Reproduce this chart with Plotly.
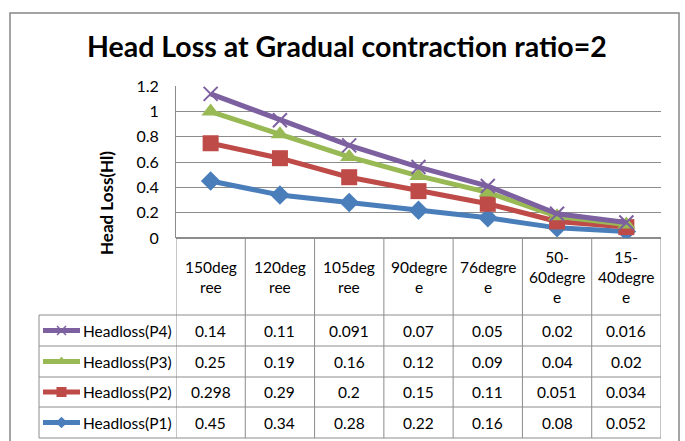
import plotly.graph_objects as go
import numpy as np

W, H = 685, 441

categories = ["150degree", "120degree", "105degree", "90degree", "76degree", "50-60degree", "15-40degree"]
cat_labels = ["150deg<br>ree", "120deg<br>ree", "105deg<br>ree", "90degre<br>e", "76degre<br>e",
              "50-<br>60degre<br>e", "15-<br>40degre<br>e"]
headloss_p1 = [0.45, 0.34, 0.28, 0.22, 0.16, 0.08, 0.052]
headloss_p2 = [0.298, 0.29, 0.2, 0.15, 0.11, 0.051, 0.034]
headloss_p3 = [0.25, 0.19, 0.16, 0.12, 0.09, 0.04, 0.02]
headloss_p4 = [0.14, 0.11, 0.091, 0.07, 0.05, 0.02, 0.016]
series_names = ["Headloss(P1)", "Headloss(P2)", "Headloss(P3)", "Headloss(P4)"]
y_ticks = [0, 0.2, 0.4, 0.6, 0.8, 1.0, 1.2]

series = [headloss_p1, headloss_p2, headloss_p3, headloss_p4]
colors = ["#4A7EBB", "#BE4B48", "#98B954", "#7D60A0"]
symbols = ["diamond", "square", "triangle-up", "x-thin"]
msizes = [15, 16, 16, 14]
leg_msizes = [9, 10, 10, 9]

FONT = "Lato, 'Open Sans', sans-serif"
GRID = "#8C8C8C"
TFS = 15.5  # table font size

def px(x):
    return x / W

def py(y):
    return 1 - y / H

# layout geometry (pixels)
PL, PR, PT, PB = 176, 661, 86, 238
LEG_L = 39
ROW_LINES = [315, 346, 377, 407, 438]
# table rows top-to-bottom: P4, P3, P2, P1
row_order = [3, 2, 1, 0]

fig = go.Figure()

cum = np.cumsum(np.array(series), axis=0)
xs = list(range(len(categories)))
for i in range(4):
    mk = dict(symbol=symbols[i], size=msizes[i], color=colors[i])
    if symbols[i] == "x-thin":
        mk["line"] = dict(color=colors[i], width=2)
    else:
        mk["line"] = dict(width=0)
    fig.add_trace(go.Scatter(
        x=xs, y=cum[i], mode="lines+markers", name=series_names[i],
        line=dict(color=colors[i], width=5), marker=mk,
        xaxis="x", yaxis="y", showlegend=False, hoverinfo="skip"))

# legend samples inside the data table (overlay axis in paper fractions)
for r, si in enumerate(row_order):
    yc = (ROW_LINES[r] + ROW_LINES[r + 1]) / 2
    fig.add_shape(type="line", xref="paper", yref="paper",
                  x0=px(43), x1=px(80), y0=py(yc), y1=py(yc),
                  line=dict(color=colors[si], width=5))
    mk = dict(symbol=symbols[si], size=leg_msizes[si], color=colors[si])
    if symbols[si] == "x-thin":
        mk["line"] = dict(color=colors[si], width=1.5)
    else:
        mk["line"] = dict(width=0)
    fig.add_trace(go.Scatter(x=[px(61.5)], y=[py(yc)], mode="markers", marker=mk,
                             xaxis="x2", yaxis="y2", showlegend=False, hoverinfo="skip"))
    fig.add_annotation(xref="paper", yref="paper", x=px(81), y=py(yc),
                       text=series_names[si], showarrow=False, xanchor="left", yanchor="middle",
                       font=dict(family=FONT, size=TFS, color="#000"))
    for j, v in enumerate(series[si]):
        fig.add_annotation(xref="x", yref="paper", x=j, y=py(yc), text=str(v),
                           showarrow=False, xanchor="center", yanchor="middle",
                           font=dict(family=FONT, size=TFS, color="#000"))

# header row category labels
for j, lab in enumerate(cat_labels):
    fig.add_annotation(xref="x", yref="paper", x=j, y=py(277), text=lab,
                       showarrow=False, xanchor="center", yanchor="middle",
                       font=dict(family=FONT, size=TFS, color="#000"))

# table grid lines
shapes = []
for k, yl in enumerate(ROW_LINES):
    shapes.append(dict(type="line", xref="paper", yref="paper", x0=px(LEG_L), x1=px(PR),
                       y0=py(yl), y1=py(yl), line=dict(color=GRID, width=1)))
shapes.append(dict(type="line", xref="paper", yref="paper", x0=px(LEG_L), x1=px(LEG_L),
                   y0=py(ROW_LINES[0]), y1=py(ROW_LINES[-1]), line=dict(color=GRID, width=1)))
for j in range(len(categories) + 1):
    shapes.append(dict(type="line", xref="x", yref="paper", x0=j - 0.5, x1=j - 0.5,
                       y0=py(PB), y1=py(ROW_LINES[-1]), line=dict(color=GRID, width=1)))
# chart outer border
shapes.append(dict(type="rect", xref="paper", yref="paper", x0=px(10), x1=px(679),
                   y0=py(13), y1=py(470), line=dict(color="#878787", width=1.5)))
for s in shapes:
    fig.add_shape(**s)

# titles
fig.add_annotation(xref="paper", yref="paper", x=px(347), y=py(46), text="<b>Head Loss at Gradual contraction ratio=2</b>",
                   showarrow=False, xanchor="center", yanchor="middle",
                   font=dict(family=FONT, size=28.5, color="#000"))
fig.add_annotation(xref="paper", yref="paper", x=px(107), y=py(203), text="<b>Head Loss(Hl)</b>",
                   textangle=-90, showarrow=False, xanchor="center", yanchor="middle",
                   font=dict(family=FONT, size=17, color="#000"))

fig.update_layout(
    width=W, height=H, margin=dict(l=0, r=0, t=0, b=0, autoexpand=False),
    paper_bgcolor="white", plot_bgcolor="rgba(0,0,0,0)",
    xaxis=dict(domain=[px(PL), px(PR)], range=[-0.5, len(categories) - 0.5],
               showgrid=False, zeroline=False, showticklabels=False, showline=False,
               fixedrange=True),
    yaxis=dict(domain=[py(PB), py(PT)], range=[0, 1.2], tickvals=y_ticks,
               ticktext=[("%g" % v) for v in y_ticks],
               showgrid=True, gridcolor=GRID, gridwidth=1, zeroline=True, zerolinecolor=GRID,
               showline=True, linecolor=GRID, linewidth=1, ticks="outside", ticklen=0,
               ticklabelstandoff=13,
               tickfont=dict(family=FONT, size=16, color="#000"), fixedrange=True),
    xaxis2=dict(domain=[0, 1], range=[0, 1], visible=False, anchor="y2", fixedrange=True),
    yaxis2=dict(domain=[0, 1], range=[0, 1], visible=False, anchor="x2", fixedrange=True),
    showlegend=False,
)

fig.write_html("out.html", config={"displayModeBar": False},
               post_script="document.body.style.margin='0';document.body.style.overflow='hidden';")
